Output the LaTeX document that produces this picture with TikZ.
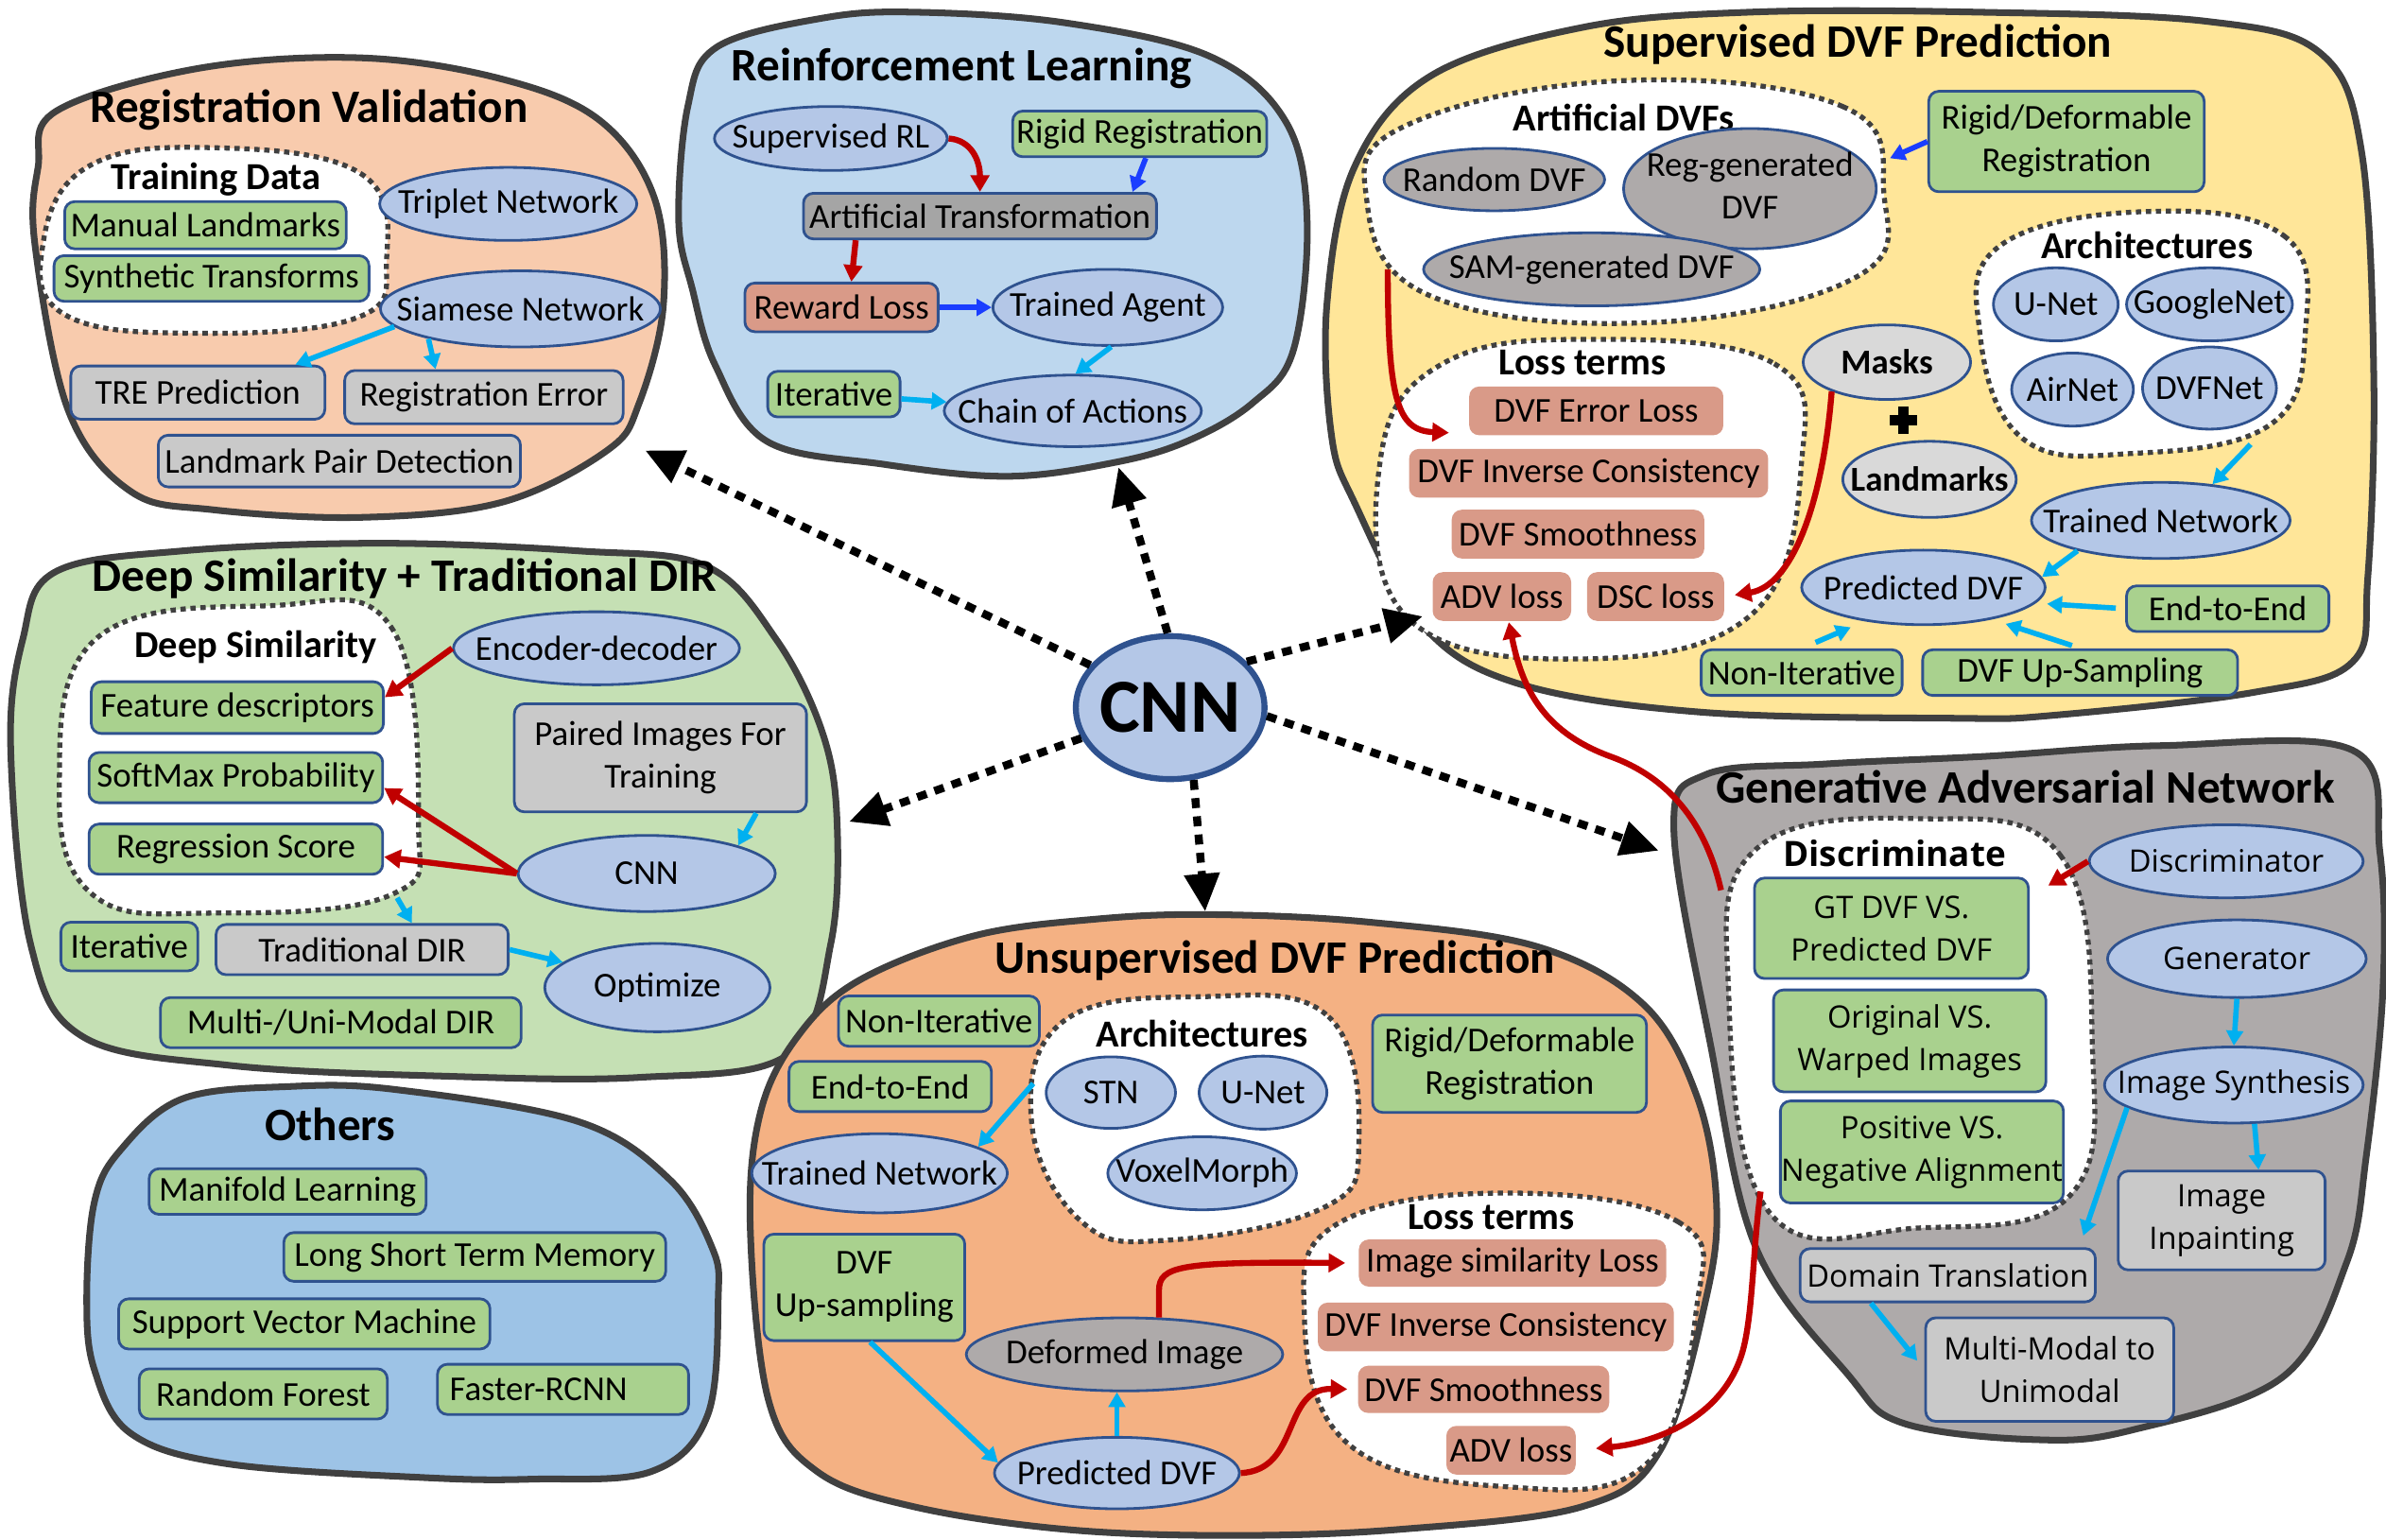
\documentclass[tikz,border=0pt]{standalone}
\usepackage{fontspec}
\setmainfont{Carlito}
\newfontfamily\segoe{Open Sans}
\usetikzlibrary{arrows.meta,shapes.geometric}
\definecolor{rim}{HTML}{404040}
\definecolor{edgeblue}{HTML}{2F528F}
\definecolor{ovalblue}{HTML}{B4C7E7}
\definecolor{boxgreen}{HTML}{A9D18E}
\definecolor{boxgray}{HTML}{C9C9C9}
\definecolor{midgray}{HTML}{A5A5A5}
\definecolor{ovalgray}{HTML}{AEAAAA}
\definecolor{maskgray}{HTML}{D9D9D9}
\definecolor{lossred}{HTML}{D99A88}
\definecolor{peach}{HTML}{F8CBAD}
\definecolor{skyblue}{HTML}{BDD7EE}
\definecolor{sand}{HTML}{FFE699}
\definecolor{sage}{HTML}{C5E0B4}
\definecolor{steel}{HTML}{9DC3E6}
\definecolor{apricot}{HTML}{F4B183}
\definecolor{ash}{HTML}{AEAAAA}
\definecolor{arrred}{HTML}{C00000}
\definecolor{arrblue}{HTML}{1A3DFF}
\definecolor{arrcyan}{HTML}{00B0F0}
\newcommand\pxu{0.16097mm}
\newcommand\ov[1]{\makebox[0pt]{#1}}
\tikzset{
  region/.style={draw=rim, line width=2pt, line join=round},
  pocket/.style={draw=rim, fill=white, line width=1.5pt, dash pattern=on 1.6pt off 1.4pt},
  heading/.style={font=\fontsize{14}{16}\selectfont\bfseries},
  subhead/.style={font=\fontsize{11.5}{13}\selectfont\bfseries},
  sz/.style 2 args={minimum width=#1*\pxu, minimum height=#2*\pxu},
  item/.style={draw=edgeblue, line width=0.8pt, inner sep=0pt, align=center, font=\fontsize{10.5}{12.8}\selectfont},
  gbox/.style={item, rounded corners=3pt, fill=boxgreen},
  ybox/.style={item, rounded corners=3pt, fill=boxgray},
  abox/.style={item, rounded corners=3pt, fill=midgray},
  lbox/.style={item, rounded corners=3pt, fill=lossred},
  loss/.style={item, rounded corners=3pt, fill=lossred, draw=none},
  oval/.style={item, ellipse, fill=ovalblue},
  goval/.style={oval, fill=ovalgray},
  moval/.style={oval, fill=maskgray, font=\fontsize{10.5}{12.8}\selectfont\bfseries},
  gan/.style={font=\segoe\fontsize{9.3}{12.8}\selectfont},
  cyarr/.style={color=arrcyan, line width=1.6pt, -{Triangle[length=4.5pt,width=5pt]}},
  rdarr/.style={color=arrred, line width=1.8pt, -{Triangle[length=5pt,width=5.5pt]}},
  blarr/.style={color=arrblue, line width=1.6pt, -{Triangle[length=4.5pt,width=5pt]}},
  bigarr/.style={line width=2.4pt, dash pattern=on 3pt off 2.5pt, -{Triangle[length=4mm,width=3.6mm]}},
}
\begin{document}
\begin{tikzpicture}[x=0.16097mm, y=-0.16097mm]
\useasboundingbox (0,0) rectangle (1568,1012);

\draw[region, fill=peach] plot[smooth cycle, tension=0.6] coordinates {(37,73) (130,45) (237,38) (330,52) (394,79) (430,130) (436,200) (420,265) (399,296) (330,330) (237,340) (140,335) (86,323) (45,270) (23,161) (25,110)};
\draw[region, fill=skyblue] plot[smooth cycle, tension=0.6] coordinates {(471,31) (540,12) (601,8) (700,15) (795,37) (845,80) (859,145) (850,230) (823,265) (780,290) (732,304) (662,313) (580,305) (504,290) (470,240) (455,190) (446,145) (452,70)};
\draw[region, fill=sand] plot[smooth cycle, tension=0.6] coordinates {(872,200) (890,110) (940,50) (1040,18) (1150,8) (1300,8) (1450,14) (1525,35) (1552,100) (1560,250) (1556,380) (1546,435) (1481,455) (1350,470) (1285,472) (1118,468) (997,449) (934,410) (890,330) (875,286)};
\draw[region, fill=sage] plot[smooth cycle, tension=0.6] coordinates {(36,376) (120,362) (250,357) (380,362) (464,372) (510,420) (540,480) (550,538) (546,620) (518,693) (420,708) (286,707) (150,700) (54,681) (20,620) (7,491) (15,420)};
\draw[region, fill=steel] plot[smooth cycle, tension=0.6] coordinates {(79,756) (120,722) (190,714) (260,716) (380,737) (440,775) (468,820) (472,853) (465,930) (428,967) (350,972) (279,971) (150,962) (86,942) (62,900) (57,853) (62,790)};
\draw[region, fill=apricot] plot[smooth cycle, tension=0.6] coordinates {(565,644) (640,615) (720,604) (796,601) (900,606) (1010,622) (1080,660) (1115,720) (1128,790) (1121,854) (1091,953) (1040,990) (920,1005) (808,1009) (700,1005) (600,990) (537,967) (505,920) (493,805) (500,730) (525,680)};
\draw[region, fill=ash] plot[smooth cycle, tension=0.6] coordinates {(1100,545) (1121,509) (1200,502) (1305,497) (1420,490) (1546,493) (1564,560) (1566,650) (1555,760) (1542,830) (1500,905) (1400,940) (1336,946) (1250,935) (1215,904) (1154,820) (1124,686)};

\draw[pocket] plot[smooth cycle, tension=0.7] coordinates {(137,97) (237,114) (254,172) (234,209) (128,219) (43,207) (28,162) (57,110)};
\draw[pocket] plot[smooth cycle, tension=0.7] coordinates {(178,398) (257,412) (275,540) (257,588) (143,600) (61,588) (39,514) (64,419)};
\draw[pocket] plot[smooth cycle, tension=0.7] coordinates {(1066,53) (1211,70) (1238,127) (1220,182) (1084,212) (939,194) (898,130) (925,82)};
\draw[pocket] plot[smooth cycle, tension=0.7] coordinates {(1048,223) (1166,239) (1184,303) (1152,403) (1039,433) (925,406) (907,303) (948,239)};
\draw[pocket] plot[smooth cycle, tension=0.7] coordinates {(1411,139) (1501,155) (1515,218) (1492,279) (1401,298) (1329,288) (1301,218) (1315,161)};
\draw[pocket] plot[smooth cycle, tension=0.7] coordinates {(788,655) (873,668) (893,752) (869,794) (767,815) (711,803) (678,738) (699,671)};
\draw[pocket] plot[smooth cycle, tension=0.7] coordinates {(990,784) (1103,803) (1115,859) (1083,961) (990,977) (885,948) (857,859) (881,803)};
\draw[pocket] plot[smooth cycle, tension=0.7] coordinates {(1263,538) (1354,562) (1375,686) (1360,786) (1260,807) (1163,797) (1136,652) (1154,558)};

\node[heading] (rvtitle) at (203,72) {Registration Validation};
\node[heading] (rltitle) at (632,45) {Reinforcement Learning};
\node[heading] (suptitle) at (1221,29) {Supervised DVF Prediction};
\node[heading] (dstitle) at (266,380) {Deep Similarity + Traditional DIR};
\node[heading] (othtitle) at (217,739) {Others};
\node[heading] (unstitle) at (838,631) {Unsupervised DVF Prediction};
\node[heading] (gantitle) at (1331,517) {Generative Adversarial Network};

\node[subhead] (tdtitle) at (142,118) {Training Data};
\node[subhead] (adtitle) at (1067,77) {Artificial DVFs};
\node[subhead] (satitle) at (1411,161) {Architectures};
\node[subhead] (sltitle) at (1040,238) {Loss terms};
\node[subhead] (dptitle) at (168,425) {Deep Similarity};
\node[subhead] (uatitle) at (790,679) {Architectures};
\node[subhead] (ultitle) at (980,800) {Loss terms};
\node[subhead, font=\segoe\fontsize{10.5}{12}\selectfont\bfseries] (dctitle) at (1245,561) {Discriminate};

\node[oval, sz={169}{48}] (triplet) at (334,134) {\ov{Triplet Network}};
\node[oval, sz={184}{50}] (siamese) at (342,203) {\ov{Siamese Network}};
\node[gbox, sz={185}{31}] (manual) at (135,148) {Manual Landmarks};
\node[gbox, sz={207}{30}] (synth) at (139,183) {Synthetic Transforms};
\node[ybox, sz={167}{35}] (tre) at (130,258) {TRE Prediction};
\node[ybox, sz={183}{35}] (regerr) at (318,261) {Registration Error};
\node[ybox, sz={238}{34}] (lpd) at (223,303) {Landmark Pair Detection};

\node[oval, sz={153}{42}] (suprl) at (546,91) {\ov{Supervised RL}};
\node[gbox, sz={167}{30}] (rigid) at (749,88) {Rigid Registration};
\node[abox, sz={232}{30}] (arttr) at (644,142) {Artificial Transformation};
\node[lbox, sz={127}{32}] (reward) at (553,202) {Reward Loss};
\node[oval, sz={151}{50}] (agent) at (728,202) {\ov{Trained Agent}};
\node[gbox, sz={87}{30}] (iterrl) at (548,259) {Iterative};
\node[oval, sz={169}{47}] (chain) at (705,270) {\ov{Chain of Actions}};

\node[goval, sz={145}{41}] (randdvf) at (982,118) {\ov{Random DVF}};
\node[goval, sz={166}{65}] (regdvf) at (1150,124) {\ov{\begin{tabular}{@{}c@{}}Reg-generated\\DVF\end{tabular}}};
\node[goval, sz={221}{48}] (samdvf) at (1046,177) {\ov{SAM-generated DVF}};
\node[gbox, sz={181}{66}] (rigdef) at (1358,93) {Rigid/Deformable\\Registration};
\node[oval, sz={82}{48}] (unet1) at (1351,200) {\ov{U-Net}};
\node[oval, sz={109}{48}] (google) at (1452,200) {\ov{GoogleNet}};
\node[oval, sz={80}{48}] (airnet) at (1362,256) {\ov{AirNet}};
\node[oval, sz={88}{54}] (dvfnet) at (1452,255) {\ov{DVFNet}};
\node[oval, sz={170}{50}] (trnet1) at (1420,342) {\ov{Trained Network}};
\node[loss, sz={167}{32}] (dvferr) at (1049,270) {DVF Error Loss};
\node[loss, sz={236}{32}] (inv1) at (1044,311) {DVF Inverse Consistency};
\node[loss, sz={166}{32}] (smooth1) at (1037,351) {DVF Smoothness};
\node[loss, sz={91}{32}] (adv1) at (987,392) {ADV loss};
\node[loss, sz={90}{32}] (dsc) at (1088,392) {DSC loss};
\node[moval, sz={110}{49}] (masks) at (1240,238) {\ov{Masks}};
\node[moval, sz={114}{50}] (lmarks) at (1268,315) {\ov{Landmarks}};
\node[oval, sz={160}{49}] (pred1) at (1264,386) {\ov{Predicted DVF}};
\node[gbox, sz={133}{30}] (e2e1) at (1464,400) {End-to-End};
\node[gbox, sz={132}{30}] (noniter1) at (1184,442) {Non-Iterative};
\node[gbox, sz={207}{30}] (upsamp1) at (1367,442) {DVF Up-Sampling};
\fill (1247.5,267) rectangle (1254.5,285);
\fill (1242,272.5) rectangle (1260,279.5);

\node[oval, sz={188}{48}] (encdec) at (392,426) {\ov{Encoder-decoder}};
\node[gbox, sz={192}{34}] (featdesc) at (156,465) {Feature descriptors};
\node[gbox, sz={193}{33}] (softmax) at (155,511) {SoftMax Probability};
\node[gbox, sz={193}{33}] (regscore) at (155,558) {Regression Score};
\node[ybox, sz={192}{71}] (paired) at (434,498) {Paired Images For\\Training};
\node[oval, sz={169}{50}] (cnnds) at (425,574) {\ov{CNN}};
\node[gbox, sz={90}{32}] (iterds) at (85,622) {Iterative};
\node[ybox, sz={192}{33}] (tradir) at (238,624) {Traditional DIR};
\node[oval, sz={148}{58}] (optim) at (432,649) {\ov{Optimize}};
\node[gbox, sz={237}{33}] (multuni) at (224,672) {Multi-/Uni-Modal DIR};

\node[gbox, sz={182}{30}] (manif) at (189,783) {Manifold Learning};
\node[gbox, sz={251}{32}] (lstm) at (312,826) {Long Short Term Memory};
\node[gbox, sz={244}{33}] (svm) at (200,870) {Support Vector Machine};
\node[gbox, sz={163}{33}] (rforest) at (173,916) {Random Forest};
\node[gbox, sz={165}{33}, text width=24mm, align=left] (frcnn) at (370,913) {Faster-RCNN};

\node[gbox, sz={132}{33}] (noniter2) at (617,671) {Non-Iterative};
\node[gbox, sz={133}{33}] (e2e2) at (585,714) {End-to-End};
\node[oval, sz={85}{47}] (stn) at (730,718) {\ov{STN}};
\node[oval, sz={84}{48}] (unet2) at (830,718) {\ov{U-Net}};
\node[oval, sz={124}{48}] (voxel) at (790,771) {\ov{VoxelMorph}};
\node[gbox, sz={180}{64}] (rigdef2) at (992,699) {Rigid/Deformable\\Registration};
\node[oval, sz={168}{52}] (trnet2) at (578,771) {\ov{Trained Network}};
\node[gbox, sz={132}{70}] (upsamp2) at (568,846) {DVF\\Up-sampling};
\node[goval, sz={208}{48}] (deformed) at (739,890) {\ov{Deformed Image}};
\node[oval, sz={161}{47}] (pred2) at (734,968) {\ov{Predicted DVF}};
\node[loss, sz={202}{31}] (imsim) at (994,830) {Image similarity Loss};
\node[loss, sz={234}{32}] (inv2) at (983,872) {DVF Inverse Consistency};
\node[loss, sz={165}{31}] (smooth2) at (975,913) {DVF Smoothness};
\node[loss, sz={85}{32}] (adv2) at (993,953) {ADV loss};

\node[gbox, gan, sz={180}{66}] (gtpred) at (1243,610) {GT DVF VS.\\Predicted DVF};
\node[gbox, gan, sz={179}{67}] (origwarp) at (1255,684) {Original VS.\\Warped Images};
\node[gbox, gan, sz={186}{67}] (posneg) at (1263,757) {Positive VS.\\Negative Alignment};
\node[oval, gan, sz={180}{48}] (discr) at (1463,566) {\ov{Discriminator}};
\node[oval, gan, sz={170}{51}] (genr) at (1470,630) {\ov{Generator}};
\node[oval, gan, sz={170}{50}] (synth2) at (1468,713) {\ov{Image Synthesis}};
\node[ybox, gan, sz={136}{65}] (inpaint) at (1460,802) {Image\\Inpainting};
\node[ybox, gan, sz={194}{35}] (domtr) at (1280,838) {Domain Translation};
\node[ybox, gan, sz={163}{68}] (mm2um) at (1347,900) {Multi-Modal to\\Unimodal};

\coordinate (advfR) at (1242,104);
\coordinate (advfL) at (912,177);
\coordinate (archS) at (1479,292);
\coordinate (dsB) at (261,590);
\coordinate (uarchL) at (679,712);
\coordinate (discR) at (1346,582);
\coordinate (discTL) at (1131,585);
\coordinate (discBL) at (1157,783);

\draw[cyarr] (siamese.188) -- (tre.16);
\draw[cyarr] (siamese.198) -- (regerr.150);

\draw[rdarr] (suprl.east) .. controls (638,92) and (644,105) .. (arttr.north);
\draw[blarr] (rigid.-76) -- (arttr.9);
\draw[rdarr] (arttr.191) -- (reward.69);
\draw[blarr] (reward) -- (agent);
\draw[cyarr] (agent.-85) -- (chain.86);
\draw[cyarr] (iterrl) -- (chain);

\draw[blarr] (rigdef.west) -- (advfR);
\draw[rdarr, shorten >=2mm] (advfL) .. controls (912,262) and (918,283) .. (dvferr.190);
\draw[rdarr, shorten >=1mm] (masks.208) .. controls (1198,330) and (1178,385) .. (dsc.east);
\draw[cyarr] (archS) -- (trnet1.35);
\draw[cyarr] (trnet1.200) -- (pred1.5);
\draw[cyarr, shorten <=1mm, shorten >=1.2mm] (e2e1.west) -- (pred1.-8);
\draw[cyarr, shorten <=1mm, shorten >=1.5mm] (upsamp1.88) -- (pred1.-25);
\draw[cyarr, shorten <=1.6mm, shorten >=1.6mm] (noniter1.north) -- (pred1.-150);

\draw[rdarr] (encdec.west) -- (featdesc.4);
\draw[rdarr] (cnnds.west) -- (softmax.-4);
\draw[rdarr] (cnnds.west) -- (regscore.-3);
\draw[cyarr] (paired.-30) -- (cnnds.17);
\draw[cyarr] (dsB) -- (tradir.28);
\draw[cyarr] (tradir.east) -- (optim.165);

\draw[cyarr] (uarchL) -- (trnet2.15);
\draw[cyarr] (upsamp2.-84) -- (pred2.175);
\draw[cyarr] (pred2.north) -- (pred2.north |- deformed.south);
\draw[rdarr, shorten >=1.3mm] (deformed.47) -- ++(0,-18) .. controls (762,832) and (775,829) .. (imsim.west);
\draw[rdarr, shorten >=1mm] (pred2.east) .. controls (855,966) and (842,912) .. (smooth2.west);

\draw[rdarr] (discr.west) -- (discR);
\draw[cyarr] (genr.south) -- (synth2.north);
\draw[cyarr] (synth2.-62) -- (inpaint.54);
\draw[cyarr, shorten >=1.3mm] (synth2.192) -- (domtr.12);
\draw[cyarr, shorten >=1.2mm] (domtr.200) -- (mm2um.west);

\draw[rdarr] (discTL) .. controls (1122,545) and (1100,512) .. (1058,497) .. controls (1012,480) and (1000,450) .. (adv1.-75);
\draw[rdarr, shorten >=2mm] (discBL) .. controls (1152,820) and (1152,860) .. (1146,885) .. controls (1135,930) and (1090,948) .. (adv2.east);

\node[oval, sz={124}{94}, line width=1.8pt, font=\fontsize{23}{23}\selectfont\bfseries] (cnn) at (769,465) {\ov{CNN}};
\coordinate (toRV) at (424,296);
\coordinate (toRL) at (735,307);
\coordinate (toSup) at (935,405);
\coordinate (toDS) at (558,540);
\coordinate (toUn) at (792,599);
\coordinate (toGAN) at (1090,559);
\foreach \a/\t in {152/toRV, 92/toRL, 31/toSup, 199/toDS, -72/toUn, -5/toGAN}
  \draw[bigarr] (cnn.\a) -- (\t);
\end{tikzpicture}
\end{document}
